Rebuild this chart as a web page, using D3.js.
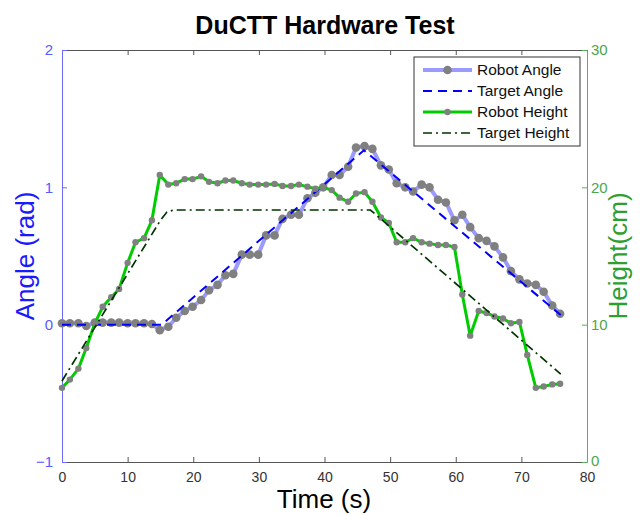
<!DOCTYPE html>
<html><head><meta charset="utf-8">
<script src="https://cdn.jsdelivr.net/npm/d3@7"></script>
<style>
body{margin:0;background:#fff;}
text{font-family:"Liberation Sans",Arial,sans-serif;}
</style></head>
<body><svg id="chart" width="640" height="515"></svg>
<script>
const time = [0,1.2,2.5,3.7,5.0,6.2,7.5,8.7,10.0,11.2,12.5,13.7,14.9,16.2,17.4,18.7,19.9,21.2,22.4,23.7,24.9,26.1,27.4,28.6,29.9,31.1,32.4,33.6,34.9,36.1,37.4,38.6,39.8,41.1,42.3,43.6,44.8,46.1,47.3,48.6,49.8,51.0,52.3,53.5,54.8,56.0,57.3,58.5,59.8,61.0,62.2,63.5,64.7,65.9,67.2,68.4,69.7,70.9,72.2,73.4,74.7,75.9];
const robotAngle = [0.01,0.01,0.01,-0.01,0.015,0.015,0.015,0.015,0.01,0.01,0.01,0.005,-0.04,-0.015,0.05,0.10,0.13,0.18,0.25,0.29,0.36,0.37,0.51,0.51,0.51,0.65,0.65,0.77,0.80,0.80,0.92,0.96,1.00,1.09,1.09,1.15,1.29,1.30,1.28,1.16,1.13,1.03,1.00,0.97,1.02,1.00,0.91,0.89,0.76,0.80,0.71,0.63,0.61,0.57,0.49,0.39,0.33,0.30,0.29,0.24,0.14,0.08];
const robotHeight = [5.4,6.0,6.8,8.3,10.1,11.3,12.0,12.6,14.5,16.0,16.3,17.6,20.9,20.2,20.3,20.6,20.6,20.8,20.4,20.3,20.5,20.5,20.3,20.2,20.2,20.2,20.25,20.1,20.1,20.2,20.05,19.9,20.0,19.8,19.25,18.95,19.55,19.65,18.95,17.8,17.4,16.0,16.0,16.3,16.0,15.9,15.8,15.8,15.65,12.2,9.2,11.0,10.85,10.6,10.45,10.1,10.2,7.8,5.4,5.5,5.65,5.7];
const targetAngleTime = [0,15.2,46,76];
const targetAngle = [0,0,1.27,0.07];
const targetHeightTime = [0,15,16,17,47,76];
const targetHeight = [5.9,17.6,18.2,18.35,18.35,6.4];
const xTicks = [0,10,20,30,40,50,60,70,80];
const angleTicks = [-1,0,1,2];
const heightTicks = [0,10,20,30];
const legendLabels = ["Robot Angle","Target Angle","Robot Height","Target Height"];

const svg = d3.select("#chart");
const L=62, R=587, T=50, B=462;
const x = d3.scaleLinear().domain([0,80]).range([L,R]);
const yA = d3.scaleLinear().domain([-1,2]).range([B,T]);
const yH = d3.scaleLinear().domain([0,30]).range([B,T]);

const gray="#555", blueAx="#6b6bff", greenAx="#5cad5c";

// axes
const gB = svg.append("g").attr("transform",`translate(0,${B})`)
  .call(d3.axisBottom(x).tickValues(xTicks).tickSizeInner(-5).tickSizeOuter(0).tickPadding(10));
const gT = svg.append("g").attr("transform",`translate(0,${T})`)
  .call(d3.axisTop(x).tickValues(xTicks).tickSizeInner(-5).tickSizeOuter(0).tickFormat(""));
[gB,gT].forEach(g=>{g.select(".domain").attr("stroke",gray);g.selectAll("line").attr("stroke",gray);
  g.selectAll("text").attr("fill","#333").style("font-size","14px");});

const gL = svg.append("g").attr("transform",`translate(${L},0)`)
  .call(d3.axisLeft(yA).tickValues(angleTicks).tickSizeInner(-5).tickSizeOuter(0).tickPadding(9).tickFormat(d3.format("d")));
gL.select(".domain").attr("stroke",blueAx);
gL.selectAll("line").attr("stroke",blueAx);
gL.selectAll("text").attr("fill","#5a5aff").style("font-size","15px");

const gR = svg.append("g").attr("transform",`translate(${R},0)`)
  .call(d3.axisRight(yH).tickValues(heightTicks).tickSizeInner(-5).tickSizeOuter(0).tickPadding(4));
gR.select(".domain").attr("stroke",greenAx);
gR.selectAll("line").attr("stroke",greenAx);
gR.selectAll("text").attr("fill","#4ca64c").style("font-size","15px");
gR.selectAll(".tick").filter(d=>d===0).select("text").attr("dy","0.2em");

// lines
const lineA = d3.line().x(d=>x(d[0])).y(d=>yA(d[1]));
const lineH = d3.line().x(d=>x(d[0])).y(d=>yH(d[1]));
const ra = time.map((t,i)=>[t,robotAngle[i]]);
const rh = time.map((t,i)=>[t,robotHeight[i]]);
const ta = targetAngleTime.map((t,i)=>[t,targetAngle[i]]);
const th = targetHeightTime.map((t,i)=>[t,targetHeight[i]]);

svg.append("path").attr("d",lineA(ra)).attr("fill","none").attr("stroke","#9a9aff").attr("stroke-width",4).attr("stroke-linejoin","round");
svg.selectAll(".ma").data(ra).enter().append("circle").attr("cx",d=>x(d[0])).attr("cy",d=>yA(d[1])).attr("r",4.3).attr("fill","#808080");
svg.append("path").attr("d",lineA(ta)).attr("fill","none").attr("stroke","#0000ff").attr("stroke-width",2).attr("stroke-dasharray","9,6");
svg.append("path").attr("d",lineH(rh)).attr("fill","none").attr("stroke","#00cc00").attr("stroke-width",3).attr("stroke-linejoin","round");
svg.selectAll(".mh").data(rh).enter().append("circle").attr("cx",d=>x(d[0])).attr("cy",d=>yH(d[1])).attr("r",3.2).attr("fill","#808080");
svg.append("path").attr("d",lineH(th)).attr("fill","none").attr("stroke","#003300").attr("stroke-width",1.7).attr("stroke-dasharray","9,4,2,4");

// legend
const lg = svg.append("g");
lg.append("rect").attr("x",414).attr("y",57).attr("width",166).attr("height",89).attr("fill","#fff").attr("stroke","#333").attr("stroke-width",1);
const rows=[70,91,112,133];
const styles=[
  {c:"#9a9aff",w:4,d:null,m:4.3},
  {c:"#0000ff",w:2,d:"9,6",m:0},
  {c:"#00cc00",w:3,d:null,m:3.2},
  {c:"#003300",w:1.7,d:"9,4,2,4",m:0}];
legendLabels.forEach((lab,i)=>{
  const s=styles[i];
  const ln=lg.append("line").attr("x1",423).attr("x2",472).attr("y1",rows[i]).attr("y2",rows[i]).attr("stroke",s.c).attr("stroke-width",s.w);
  if(s.d) ln.attr("stroke-dasharray",s.d);
  if(s.m) lg.append("circle").attr("cx",447.5).attr("cy",rows[i]).attr("r",s.m).attr("fill","#808080");
  lg.append("text").attr("x",477).attr("y",rows[i]+5).text(lab).style("font-size","15.5px").attr("fill","#111");
});

// titles
svg.append("text").attr("x",325).attr("y",34).attr("text-anchor","middle").style("font-size","25px").style("font-weight","bold").text("DuCTT Hardware Test");
svg.append("text").attr("x",324).attr("y",508).attr("text-anchor","middle").style("font-size","26px").text("Time (s)");
svg.append("text").attr("transform","translate(34,256) rotate(-90)").attr("text-anchor","middle").style("font-size","26px").attr("fill","#1a1aff").text("Angle (rad)");
svg.append("text").attr("transform","translate(627,256) rotate(-90)").attr("text-anchor","middle").style("font-size","26px").attr("fill","#2e9e2e").text("Height(cm)");
</script></body></html>
